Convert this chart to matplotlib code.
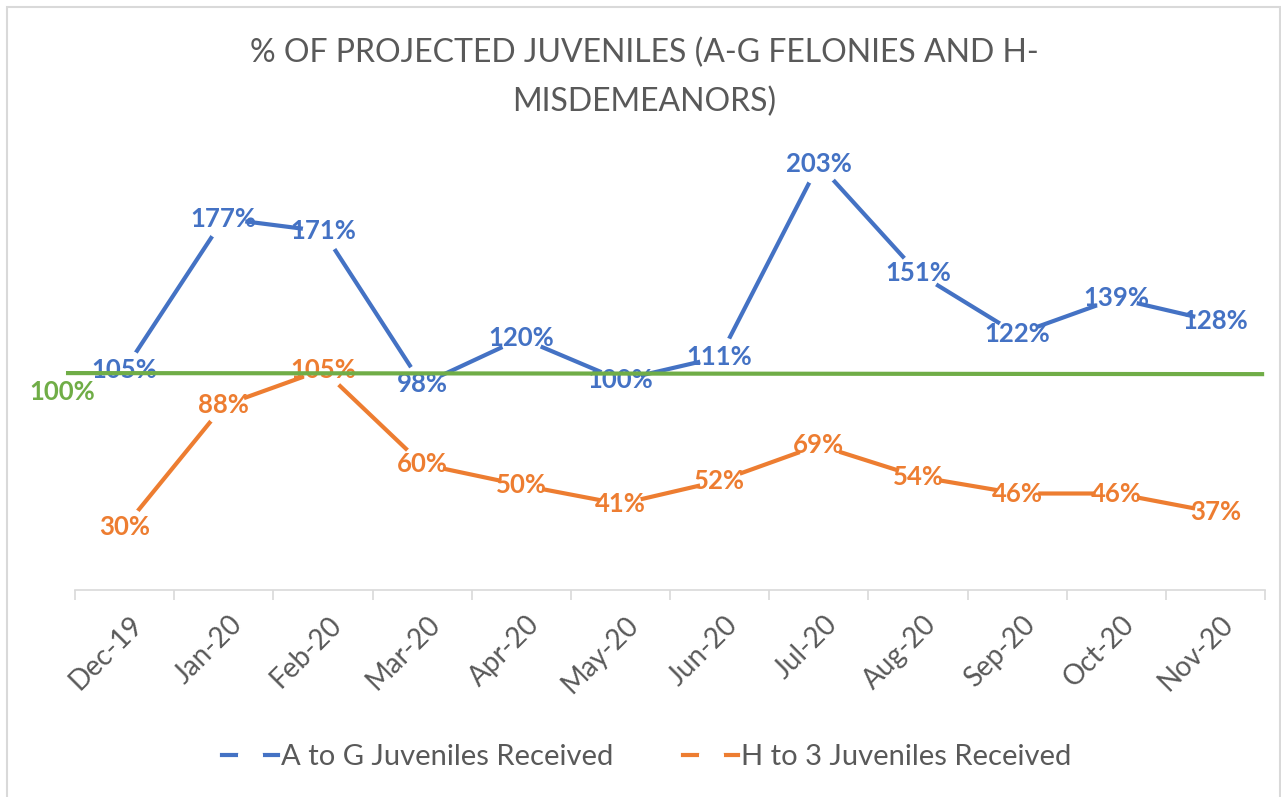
import matplotlib
matplotlib.use("Agg")
import matplotlib.pyplot as plt
import matplotlib.transforms as mtransforms
from matplotlib.lines import Line2D
from matplotlib.patches import Rectangle
import numpy as np

plt.rcParams['font.family'] = ['Lato', 'DejaVu Sans']

# data
months = ["Dec-19", "Jan-20", "Feb-20", "Mar-20", "Apr-20", "May-20",
          "Jun-20", "Jul-20", "Aug-20", "Sep-20", "Oct-20", "Nov-20"]
a_to_g = [105, 177, 171, 98, 120, 100, 111, 203, 151, 122, 139, 128]
h_to_3 = [30, 88, 105, 60, 50, 41, 52, 69, 54, 46, 46, 37]
# hand drawn 100% target line (as it sits on the picture)
target_x = [-0.57, 11.47]
target_y = [103.4, 102.9]

BLUE = "#4472C4"
ORANGE = "#ED7D31"
GREEN = "#70AD47"
GREY = "#595959"
LIGHT = "#D9D9D9"

fig = plt.figure(figsize=(12.81, 7.97), dpi=100)
ax = fig.add_axes([0.05855, 0.2597, 0.929, 0.6581])

x = np.arange(len(months))

for vals, col in [(a_to_g, BLUE), (h_to_3, ORANGE)]:
    ax.plot(x, vals, color=col, lw=3, marker='o', ms=29,
            mfc='white', mec='white', zorder=3)
    for xi, v in zip(x, vals):
        ax.text(xi, v, f"{v}%", color=col, fontsize=18.5, fontweight='bold',
                ha='center', va='center', zorder=4)

ax.plot(target_x, target_y, color=GREEN, lw=3, zorder=5, clip_on=False)
ax.annotate("100%", (target_x[0], target_y[0]), xytext=(-6, -19),
            textcoords='offset pixels', color=GREEN, fontsize=18.5,
            fontweight='bold', ha='center', va='center', zorder=5,
            annotation_clip=False)

ax.set_xlim(-0.5, len(months) - 0.5)
ax.set_ylim(0, 250)
ax.set_yticks([])
for s in ['top', 'right', 'left']:
    ax.spines[s].set_visible(False)
ax.spines['bottom'].set_color(LIGHT)
ax.spines['bottom'].set_linewidth(1.2)

ax.set_xticks(x)
ax.set_xticklabels(months, rotation=45, ha='right', va='center',
                   rotation_mode='anchor', color=GREY, fontsize=20)
ax.tick_params(axis='x', which='major', length=0, pad=22)
ax.set_xticks(np.arange(-0.5, len(months)), minor=True)
ax.tick_params(axis='x', which='minor', length=7, width=1.2, color=LIGHT)
offset = mtransforms.ScaledTranslation(14 / 100, 0, fig.dpi_scale_trans)
for lab in ax.get_xticklabels():
    lab.set_transform(lab.get_transform() + offset)

fig.text(0.503, 0.903, "% OF PROJECTED JUVENILES (A-G FELONIES AND H-\nMISDEMEANORS)",
         ha='center', va='center', fontsize=23, color=GREY,
         linespacing=1.75)

handles = [Line2D([0], [0], color=BLUE, lw=3, marker='o', ms=17,
                  mfc='white', mec='white'),
           Line2D([0], [0], color=ORANGE, lw=3, marker='o', ms=17,
                  mfc='white', mec='white')]
fig.legend(handles, ["A to G Juveniles Received", "H to 3 Juveniles Received"],
           loc='center', bbox_to_anchor=(0.505, 0.05), ncol=2, frameon=False,
           fontsize=21, labelcolor=GREY, handlelength=1.9, handletextpad=0.1,
           columnspacing=2.4)

fig.patches.append(Rectangle((7 / 1281, -0.01), 1273 / 1281, 1.01 - 7 / 797,
                             transform=fig.transFigure, fill=False,
                             edgecolor=LIGHT, lw=1.5))

fig.savefig("out.png", dpi=100)
